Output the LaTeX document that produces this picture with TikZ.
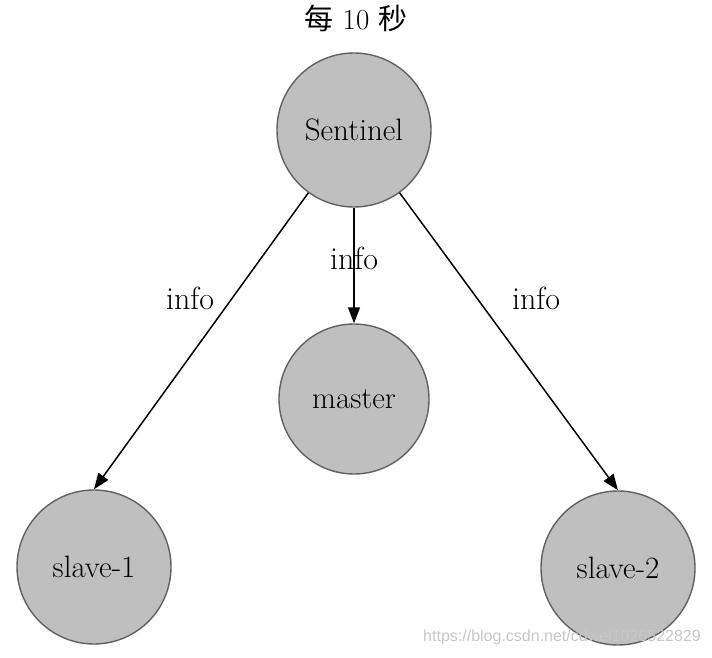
\documentclass[tikz,border=0pt]{standalone}
\usepackage{fontspec}
\newfontfamily\cjk{Noto Sans CJK SC}
\newfontfamily\wmfont{Liberation Sans}
\usetikzlibrary{arrows.meta}

\tikzset{
  ball/.style={circle, draw=black!62, line width=1.4pt, fill=black!25,
    minimum size=#1, inner sep=0pt, font=\fontsize{31}{34}\selectfont},
  ball/.default=154pt,
  msg/.style={-{Triangle[length=16pt,width=12pt]}, line width=1.5pt},
  msglabel/.style={font=\fontsize{32}{34}\selectfont, inner sep=1pt},
}

\begin{document}
\begin{tikzpicture}[x=1pt,y=1pt]
			%%%%% START %%%%%
			\useasboundingbox (0,0) rectangle (712,657);
			
			\node (title) at (356, 639) {\fontsize{29}{31}\selectfont{\cjk 每} 10 {\cjk 秒}};
			
			\node[ball] (sentinel) at (354, 527) {Sentinel};
			\node[ball=150pt] (master) at (354, 258) {master};
			\node[ball] (slave1) at (94, 90) {slave-1};
			\node[ball] (slave2) at (618, 89) {slave-2};
			
			\draw[msg] (sentinel.234) -- (slave1.north);
			\draw[msg] (sentinel) -- (master);
			\draw[msg] (sentinel.306) -- (slave2.north);
			
			\node[msglabel] (info1) at (190, 359) {info};
			\node[msglabel] (info2) at (354, 399) {info};
			\node[msglabel] (info3) at (536, 359) {info};
			
			\node[text=black!22, font=\wmfont\fontsize{16}{18}\selectfont] (mark) at (562, 20) {https://blog.csdn.net/cdwei1026522829};
			
			%%%%% END %%%%%
\end{tikzpicture}
\end{document}
